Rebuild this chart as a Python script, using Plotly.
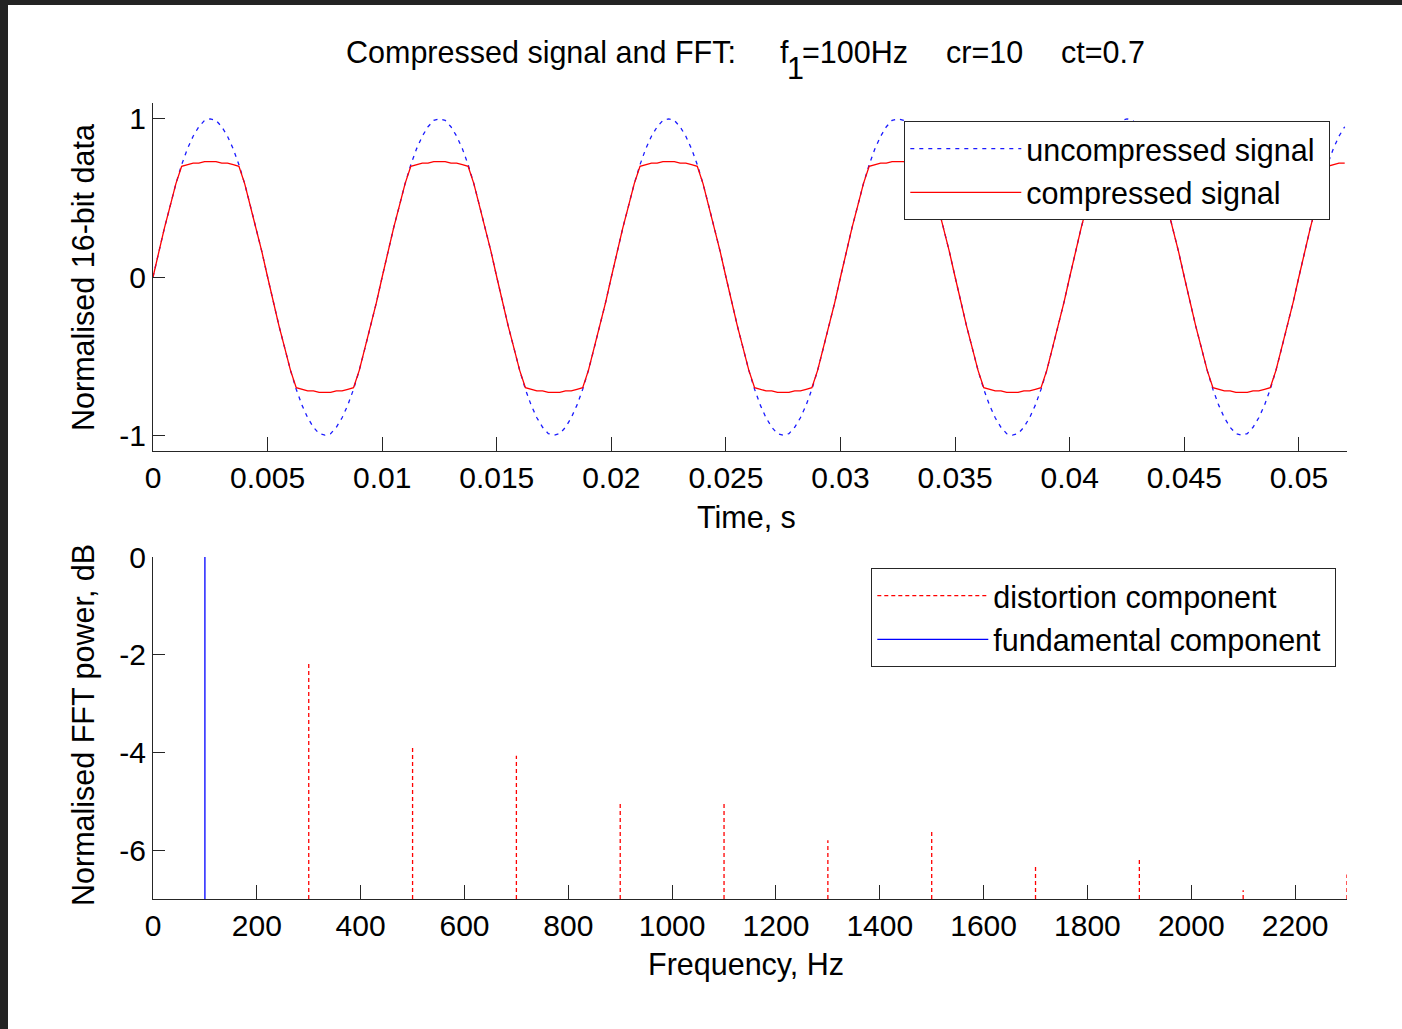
import plotly.graph_objects as go

# ---------------- data ----------------
# time-domain signal: sampled every 0.25 ms from t = 0 to 0.052 s
t_start = 0.0
t_step = 0.00025

uncompressed = [
    0, .16, .31, .45, .59, .71, .81, .89, .95, .99, 1, .99, .95, .89, .81, .71, .59, .45, .31, .16,
    0, -.16, -.31, -.45, -.59, -.71, -.81, -.89, -.95, -.99, -1, -.99, -.95, -.89, -.81, -.71, -.59, -.45, -.31, -.16,
    0, .16, .31, .45, .59, .71, .81, .89, .95, .99, 1, .99, .95, .89, .81, .71, .59, .45, .31, .16,
    0, -.16, -.31, -.45, -.59, -.71, -.81, -.89, -.95, -.99, -1, -.99, -.95, -.89, -.81, -.71, -.59, -.45, -.31, -.16,
    0, .16, .31, .45, .59, .71, .81, .89, .95, .99, 1, .99, .95, .89, .81, .71, .59, .45, .31, .16,
    0, -.16, -.31, -.45, -.59, -.71, -.81, -.89, -.95, -.99, -1, -.99, -.95, -.89, -.81, -.71, -.59, -.45, -.31, -.16,
    0, .16, .31, .45, .59, .71, .81, .89, .95, .99, 1, .99, .95, .89, .81, .71, .59, .45, .31, .16,
    0, -.16, -.31, -.45, -.59, -.71, -.81, -.89, -.95, -.99, -1, -.99, -.95, -.89, -.81, -.71, -.59, -.45, -.31, -.16,
    0, .16, .31, .45, .59, .71, .81, .89, .95, .99, 1, .99, .95, .89, .81, .71, .59, .45, .31, .16,
    0, -.16, -.31, -.45, -.59, -.71, -.81, -.89, -.95, -.99, -1, -.99, -.95, -.89, -.81, -.71, -.59, -.45, -.31, -.16,
    0, .16, .31, .45, .59, .71, .81, .89, .95,
]

compressed = [
    0, .16, .31, .45, .59, .70, .71, .72, .72, .73, .73, .73, .72, .72, .71, .70, .59, .45, .31, .16,
    0, -.16, -.31, -.45, -.59, -.70, -.71, -.72, -.72, -.73, -.73, -.73, -.72, -.72, -.71, -.70, -.59, -.45, -.31, -.16,
    0, .16, .31, .45, .59, .70, .71, .72, .72, .73, .73, .73, .72, .72, .71, .70, .59, .45, .31, .16,
    0, -.16, -.31, -.45, -.59, -.70, -.71, -.72, -.72, -.73, -.73, -.73, -.72, -.72, -.71, -.70, -.59, -.45, -.31, -.16,
    0, .16, .31, .45, .59, .70, .71, .72, .72, .73, .73, .73, .72, .72, .71, .70, .59, .45, .31, .16,
    0, -.16, -.31, -.45, -.59, -.70, -.71, -.72, -.72, -.73, -.73, -.73, -.72, -.72, -.71, -.70, -.59, -.45, -.31, -.16,
    0, .16, .31, .45, .59, .70, .71, .72, .72, .73, .73, .73, .72, .72, .71, .70, .59, .45, .31, .16,
    0, -.16, -.31, -.45, -.59, -.70, -.71, -.72, -.72, -.73, -.73, -.73, -.72, -.72, -.71, -.70, -.59, -.45, -.31, -.16,
    0, .16, .31, .45, .59, .70, .71, .72, .72, .73, .73, .73, .72, .72, .71, .70, .59, .45, .31, .16,
    0, -.16, -.31, -.45, -.59, -.70, -.71, -.72, -.72, -.73, -.73, -.73, -.72, -.72, -.71, -.70, -.59, -.45, -.31, -.16,
    0, .16, .31, .45, .59, .70, .71, .72, .72,
]

time_ticks = [0, 0.005, 0.01, 0.015, 0.02, 0.025, 0.03, 0.035, 0.04, 0.045, 0.05]
time_tick_labels = ["0", "0.005", "0.01", "0.015", "0.02", "0.025", "0.03", "0.035", "0.04", "0.045", "0.05"]
amp_ticks = [-1, 0, 1]
amp_tick_labels = ["-1", "0", "1"]

# spectrum
fundamental_freq = [100]
fundamental_db = [0.0]
distortion_freq = [300, 500, 700, 900, 1100, 1300, 1500, 1700, 1900, 2100, 2300]
distortion_db = [-2.17, -3.88, -4.07, -5.02, -5.02, -5.8, -5.63, -6.32, -6.14, -6.82, -6.5]
freq_ticks = [0, 200, 400, 600, 800, 1000, 1200, 1400, 1600, 1800, 2000, 2200]
db_ticks = [-6, -4, -2, 0]
db_tick_labels = ["-6", "-4", "-2", "0"]
stem_base = -7

# ---------------- layout helpers ----------------
W, H = 1402, 1029
ML, MR, MT, MB = 153, 55, 103, 130
PW, PH = W - ML - MR, H - MT - MB


def px(x):
    return (x - ML) / PW


def py(y):
    return (H - MB - y) / PH


def stems(xs, ys, base):
    sx, sy = [], []
    for x, y in zip(xs, ys):
        sx += [x, x, None]
        sy += [base, y, None]
    return sx, sy


FONT = "Liberation Sans, Arial, sans-serif"
FS_TICK = 30
FS = 30.5
AX = "#262626"
NB = "\u00a0"

fig = go.Figure()

fig.add_trace(go.Scatter(
    y=uncompressed, x0=t_start, dx=t_step, mode="lines", name="uncompressed signal" + NB,
    line=dict(color="#1a1aff", width=1.3, dash="4px,5px"), xaxis="x", yaxis="y",
    legend="legend", legendgroup="a",
))
fig.add_trace(go.Scatter(
    y=compressed, x0=t_start, dx=t_step, mode="lines", name="compressed signal",
    line=dict(color="#ff0000", width=1.3), xaxis="x", yaxis="y",
    legend="legend", legendgroup="b",
))

dx_, dy_ = stems(distortion_freq, distortion_db, stem_base)
fig.add_trace(go.Scatter(
    x=dx_, y=dy_, mode="lines", name="distortion component",
    line=dict(color="#ff0000", width=1.3, dash="4px,3px"), xaxis="x2", yaxis="y2",
    legend="legend2", legendgroup="c",
))
fx_, fy_ = stems(fundamental_freq, fundamental_db, stem_base)
fig.add_trace(go.Scatter(
    x=fx_, y=fy_, mode="lines", name="fundamental component" + NB,
    line=dict(color="#0000ff", width=1.3), xaxis="x2", yaxis="y2",
    legend="legend2", legendgroup="d",
))

axis_common = dict(
    showline=True, linecolor=AX, linewidth=1.3, ticks="inside", tickcolor=AX, tickwidth=1.3,
    showgrid=False, zeroline=False, mirror=False,
    tickfont=dict(family=FONT, size=FS_TICK, color="black"),
)

top_dom = [py(451), 1.0]
bot_dom = [0.0, py(557)]

legend_common = dict(xanchor="left", yanchor="top", bgcolor="white",
                     bordercolor=AX, borderwidth=1.3, itemwidth=111, tracegroupgap=1,
                     font=dict(family=FONT, size=FS, color="black"))

fig.update_layout(
    width=W, height=H,
    margin=dict(l=ML, r=MR, t=MT, b=MB),
    paper_bgcolor="white", plot_bgcolor="white",
    font=dict(family=FONT, size=FS, color="black"),
    xaxis=dict(axis_common, domain=[0, 1], range=[0, 0.0521], tickvals=time_ticks,
               ticktext=time_tick_labels, ticklen=14, anchor="y"),
    yaxis=dict(axis_common, domain=top_dom, range=[-1.1, 1.1], tickvals=amp_ticks,
               ticktext=amp_tick_labels, ticklen=12, anchor="x"),
    xaxis2=dict(axis_common, domain=[0, 1], range=[0, 2300], tickvals=freq_ticks,
                ticktext=[str(v) for v in freq_ticks], ticklen=14, anchor="y2"),
    yaxis2=dict(axis_common, domain=bot_dom, range=[-7, 0], tickvals=db_ticks,
                ticktext=db_tick_labels, ticklen=12, anchor="x2"),
    legend=dict(legend_common, x=px(904), y=py(121)),
    legend2=dict(legend_common, x=px(871), y=py(568)),
    showlegend=True,
)

ann = []


def add_text(txt, x, y, xanchor="left", angle=0):
    ann.append(dict(text=txt, x=px(x), y=py(y), xref="paper", yref="paper",
                    xanchor=xanchor, yanchor="middle", textangle=angle, showarrow=False,
                    font=dict(family=FONT, size=FS, color="black")))


add_text("Time, s", 746, 517, "center")
add_text("Frequency, Hz", 746, 964, "center")
add_text("Normalised 16-bit data", 83, 278, "center", -90)
add_text("Normalised FFT power, dB", 83, 725, "center", -90)
add_text("Compressed signal and FFT:", 344, 52)
add_text("f", 778, 52)
add_text("1", 785, 68)
add_text("=100Hz", 800, 52)
add_text("cr=10", 944, 52)
add_text("ct=0.7", 1059, 52)
fig.update_layout(annotations=ann)

# dark screenshot frame (left and top edges)
fig.add_shape(type="rect", xref="paper", yref="paper", x0=px(0), x1=px(8), y0=py(H), y1=py(0),
              fillcolor="#232323", line_width=0, layer="above")
fig.add_shape(type="rect", xref="paper", yref="paper", x0=px(0), x1=px(W), y0=py(5), y1=py(0),
              fillcolor="#232323", line_width=0, layer="above")

fig.write_html("out.html")
